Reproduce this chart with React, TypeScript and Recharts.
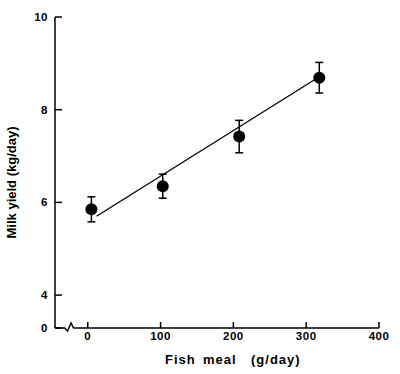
import { ScatterChart, Scatter, XAxis, YAxis, ErrorBar, ReferenceLine, ReferenceDot, Label } from 'recharts';

const FISH_MEAL = [5, 103, 208, 318];
const MILK_YIELD = [5.85, 6.35, 7.42, 8.69];
const MILK_SE = [0.27, 0.26, 0.35, 0.33];

// fitted regression line end points
const FIT_X = [12, 312];
const FIT_Y = [5.7, 8.65];

const X_TICKS = [0, 100, 200, 300, 400];
const Y_TICKS = [0, 4, 6, 8, 10];
// y axis is broken: "0" is drawn just below 4
const Y_BREAK = 3.29;
const X_MIN = -45;
const X_BREAK = -25;

const FONT = '"Liberation Sans", Arial, sans-serif';

const points = FISH_MEAL.map((x, i) => ({ x, y: MILK_YIELD[i], err: MILK_SE[i] }));
const fit = FIT_X.map((x, i) => ({ x, y: FIT_Y[i] }));
const yTickPos = Y_TICKS.map((v) => (v === 0 ? Y_BREAK : v));

const Dot = (p: any) => <circle cx={p.cx} cy={p.cy} r={6} fill="#000" />;

const BreakMark = (p: any) => {
  const { cx, cy } = p;
  return (
    <path
      d={`M${cx - 5},${cy} L${cx - 2},${cy + 3} L${cx + 1.5},${cy - 5} L${cx + 4},${cy}`}
      fill="none"
      stroke="#000"
      strokeWidth={1.5}
    />
  );
};

export default function App() {
  return (
    <div style={{ position: 'absolute', left: 0, top: 0, width: 400, height: 374, background: '#fff' }}>
      <ScatterChart width={400} height={374} margin={{ top: 17, right: 21, left: 15, bottom: 6 }}>
        <XAxis
          type="number"
          dataKey="x"
          domain={[X_MIN, 400]}
          ticks={X_TICKS}
          allowDataOverflow
          axisLine={false}
          tickSize={-6}
          tickMargin={10}
          height={40}
          tickLine={{ stroke: '#000', strokeWidth: 1.5 }}
          tick={{ fill: '#000', fontSize: 11.5, fontWeight: 'bold', fontFamily: FONT, letterSpacing: 0.5 }}
        >
          <Label
            content={(props: any) => {
              const vb = props.viewBox;
              return (
                <text
                  y={vb.y + 36}
                  fill="#000"
                  fontSize={13}
                  fontWeight="bold"
                  fontFamily={FONT}
                  letterSpacing={1}
                >
                  <tspan x={vb.x + 110}>Fish</tspan>
                  <tspan x={vb.x + 148}>meal</tspan>
                  <tspan x={vb.x + 196}>(g/day)</tspan>
                </text>
              );
            }}
          />
        </XAxis>
        <YAxis
          type="number"
          dataKey="y"
          domain={[Y_BREAK, 10]}
          ticks={yTickPos}
          allowDataOverflow
          tickFormatter={(v: number) => (v === Y_BREAK ? '0' : String(v))}
          width={40}
          tickSize={-7}
          tickMargin={14}
          axisLine={{ stroke: '#000', strokeWidth: 1.5 }}
          tickLine={{ stroke: '#000', strokeWidth: 1.5 }}
          tick={{ fill: '#000', fontSize: 11.5, fontWeight: 'bold', fontFamily: FONT, letterSpacing: 0.5 }}
        >
          <Label
            content={(props: any) => {
              const vb = props.viewBox;
              const cx = vb.x - 4;
              const cy = vb.y + vb.height / 2 + 10;
              return (
                <text
                  x={cx}
                  y={cy}
                  transform={`rotate(-90 ${cx} ${cy})`}
                  textAnchor="middle"
                  dominantBaseline="central"
                  fill="#000"
                  fontSize={13}
                  fontWeight="bold"
                  fontFamily={FONT}
                >
                  Milk yield (kg/day)
                </text>
              );
            }}
          />
        </YAxis>
        {/* x axis drawn in two pieces around the break */}
        <ReferenceLine
          segment={[{ x: X_MIN, y: Y_BREAK }, { x: X_BREAK - 6, y: Y_BREAK }]}
          stroke="#000"
          strokeWidth={1.5}
        />
        <ReferenceLine
          segment={[{ x: X_BREAK + 5, y: Y_BREAK }, { x: 400, y: Y_BREAK }]}
          stroke="#000"
          strokeWidth={1.5}
        />
        <ReferenceDot x={X_BREAK} y={Y_BREAK} shape={BreakMark} />
        <Scatter
          data={fit}
          line={{ stroke: '#000', strokeWidth: 1.3 }}
          shape={() => <g />}
          isAnimationActive={false}
        />
        <Scatter data={points} shape={Dot} isAnimationActive={false}>
          <ErrorBar dataKey="err" direction="y" width={4} stroke="#000" strokeWidth={1.5} isAnimationActive={false} />
        </Scatter>
      </ScatterChart>
    </div>
  );
}
